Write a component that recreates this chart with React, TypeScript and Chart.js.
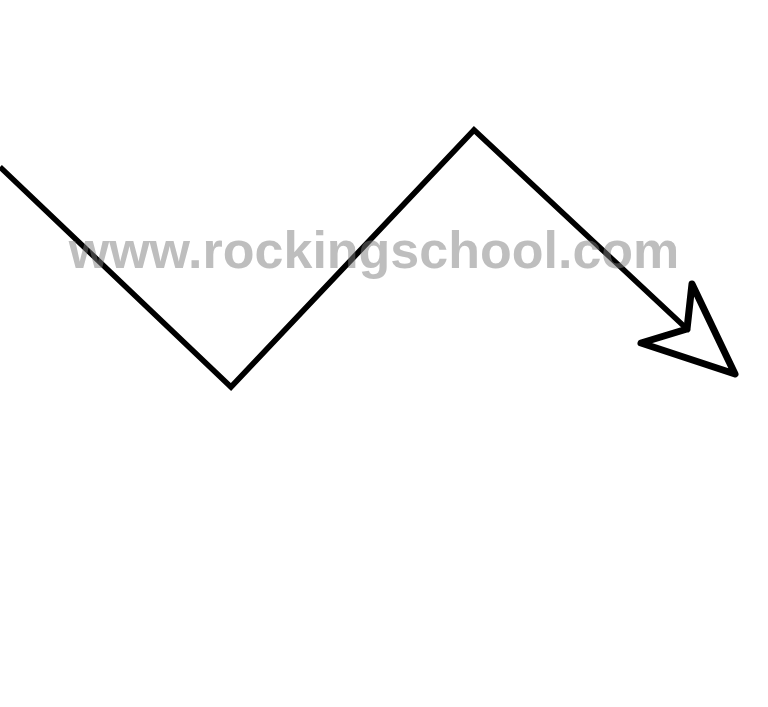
import { useEffect, useRef } from "react";
import { Chart, registerables, type Plugin } from "chart.js";

Chart.register(...registerables);

// zigzag path (x to the right, y downwards)
const zigzagX = [0, 231, 474, 687];
const zigzagY = [167, 387, 130, 329];

// arrowhead outline (closed)
const arrowX = [687, 692, 735, 641, 687];
const arrowY = [329, 284, 374, 343, 329];

const watermark = "www.rockingschool.com";

const WIDTH = 768;
const HEIGHT = 707;

const watermarkPlugin: Plugin<"line"> = {
  id: "watermark",
  afterDatasetsDraw(chart) {
    const { ctx, chartArea } = chart;
    ctx.save();
    ctx.font = "bold 52px 'Liberation Sans', Arial, sans-serif";
    ctx.fillStyle = "rgba(125,125,125,0.5)";
    ctx.textAlign = "center";
    ctx.textBaseline = "alphabetic";
    const cx = (chartArea.left + chartArea.right) / 2 - 10;
    ctx.fillText(watermark, cx, chartArea.top + 268);
    ctx.restore();
  },
};

export default function App() {
  const canvasRef = useRef<HTMLCanvasElement>(null);
  const chartRef = useRef<Chart | null>(null);

  useEffect(() => {
    if (!canvasRef.current) return;
    document.body.style.margin = "0";
    chartRef.current = new Chart(canvasRef.current, {
      type: "line",
      data: {
        datasets: [
          {
            data: zigzagX.map((x, i) => ({ x, y: zigzagY[i] })),
            borderColor: "#000",
            borderWidth: 5.5,
            borderJoinStyle: "miter",
            borderCapStyle: "butt",
            pointRadius: 0,
            tension: 0,
            fill: false,
          },
          {
            data: arrowX.map((x, i) => ({ x, y: arrowY[i] })),
            borderColor: "#000",
            borderWidth: 7,
            borderJoinStyle: "round",
            borderCapStyle: "round",
            pointRadius: 0,
            tension: 0,
            fill: false,
          },
        ],
      },
      options: {
        responsive: false,
        animation: false,
        clip: false,
        layout: { padding: 0 },
        parsing: false,
        scales: {
          x: { type: "linear", min: 0, max: WIDTH, display: false },
          y: { type: "linear", min: 0, max: HEIGHT, reverse: true, display: false },
        },
        plugins: {
          legend: { display: false },
          tooltip: { enabled: false },
          title: { display: false },
        },
      },
      plugins: [watermarkPlugin],
    });
    return () => {
      chartRef.current?.destroy();
      chartRef.current = null;
    };
  }, []);

  return (
    <div style={{ width: WIDTH, height: HEIGHT, background: "#fff" }}>
      <canvas ref={canvasRef} width={WIDTH} height={HEIGHT} />
    </div>
  );
}
